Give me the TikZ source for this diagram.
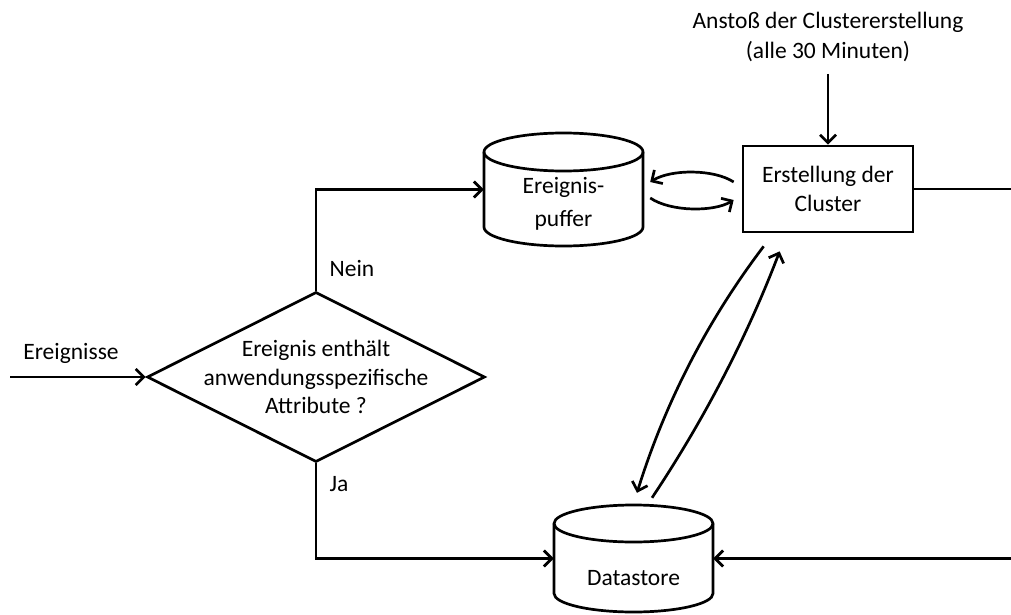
\documentclass[tikz,border=0pt]{standalone}
\usepackage{fontspec}
\setmainfont{Carlito}
\usetikzlibrary{arrows.meta,shapes.geometric,calc}

\tikzset{
  every picture/.style={x=1pt,y=1pt},
  conn/.style={line width=2.7pt},
  arr/.style={conn,-{Straight Barb[length=8pt,width=16pt]}},
  lbl/.style={inner sep=0pt,align=center,font=\fontsize{23.5}{30}\selectfont},
  hold/.style={draw=none,inner sep=0pt,minimum width=159pt},
  decbox/.style={diamond,draw,line width=2.7pt,inner sep=0pt,minimum width=338pt,minimum height=170pt},
  procbox/.style={rectangle,draw,line width=2.7pt,minimum width=170pt,minimum height=86pt,align=center,font=\fontsize{23.5}{29}\selectfont}
}

% cylinder outline: #1 left x, #2 top y, #3 width, #4 height, #5 y radius
\newcommand{\dbcyl}[5]{%
  \draw[line width=2.7pt,fill=white]
    (#1,{#2-#5}) -- (#1,{#2-#4+#5})
    arc[start angle=180,end angle=360,x radius={#3/2},y radius=#5]
    -- ({#1+#3},{#2-#5})
    arc[start angle=0,end angle=180,x radius={#3/2},y radius=#5] -- cycle;
  \draw[line width=2.7pt] (#1,{#2-#5})
    arc[start angle=180,end angle=360,x radius={#3/2},y radius=#5];
}

\begin{document}
\begin{tikzpicture}
\useasboundingbox (0,0) rectangle (1011,-615);

% storage cylinders
\dbcyl{484}{-133}{159}{113}{19}
\dbcyl{554}{-505}{159}{107}{18.5}
\node[hold,minimum height=113pt] (pf) at (563.5,-189.5) {};
\node[hold,minimum height=107pt] (ds) at (633.5,-558.5) {};
\node[lbl,font=\fontsize{23.5}{33}\selectfont] (pftxt) at (563.5,-204) {Ereignis-\\puffer};
\node[lbl] (dstxt) at (633.5,-578) {Datastore};

% decision and process
\node[decbox] (dec) at (316,-377) {};
\node[lbl,font=\fontsize{23.5}{28.5}\selectfont] (dectxt) at (316,-377) {Ereignis enthält\\anwendungsspezifische\\Attribute ?};
\node[procbox] (clus) at (828,-189) {Erstellung der\\Cluster};

% free labels
\node[lbl] (anst) at (828,-37) {Anstoß der Clustererstellung\\(alle 30 Minuten)};
\node[lbl] (evlbl) at (71,-353) {Ereignisse};
\node[lbl] (neinlbl) at (352,-268) {Nein};
\node[lbl] (jalbl) at (339,-484) {Ja};

% free ends
\coordinate (ein) at (10,-377);
\coordinate (rtop) at (1011,-189);
\coordinate (rbot) at (1011,-558.5);

% connectors
\draw[arr] (ein) -- (dec.west);
\draw[arr] (dec.north) |- (pf.west);
\draw[arr] (dec.south) |- (ds.west);
\draw[arr,shorten <=12pt] (anst.south) -- (clus.north);
\draw[conn] (clus.east) -- (rtop);
\draw[arr] (rbot) -- (ds.east);

% exchange between buffer and clustering
\draw[arr] ([shift={(-8,7)}]clus.west) .. controls (714,-169) and (671,-169) .. ([shift={(7,7.5)}]pf.east);
\draw[arr] ([shift={(7,-8.5)}]pf.east) .. controls (671,-212) and (714,-212) .. ([shift={(-8,-11)}]clus.west);

% exchange between clustering and datastore
\draw[arr] ([shift={(22,-13)}]clus.south west) .. controls (707.6,-320.1) and (665,-402.7) .. ([shift={(3.5,12)}]ds.north);
\draw[arr] ([shift={(18.5,7)}]ds.north) .. controls (703.8,-420.1) and (747,-337.1) .. ([shift={(38,-18)}]clus.south west);
\end{tikzpicture}
\end{document}
